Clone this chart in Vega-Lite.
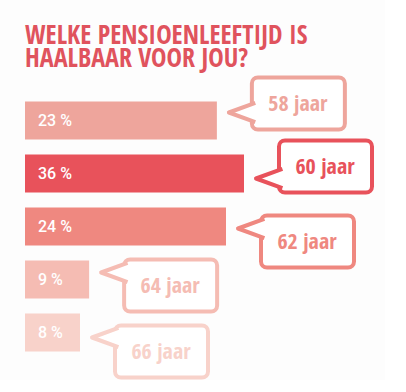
{
  "$schema": "https://vega.github.io/schema/vega-lite/v6.json",
  "width": 360,
  "height": 265,
  "padding": {"left": 25, "top": 22, "right": 0, "bottom": 0},
  "background": "#fdfdfd",
  "title": {
    "text": ["WELKE PENSIOENLEEFTIJD IS", "HAALBAAR VOOR JOU?"],
    "anchor": "start",
    "frame": "group",
    "font": "Open Sans Condensed, Roboto Condensed, Liberation Sans Narrow, DejaVu Sans Condensed, sans-serif",
    "fontSize": 26,
    "fontWeight": "bold",
    "color": "#e0535d",
    "lineHeight": 23,
    "offset": 4
  },
  "config": {"view": {"stroke": null}},
  "data": {
    "values": [
      {"leeftijd": "58 jaar", "pct": 23, "pctLabel": "23 %"},
      {"leeftijd": "60 jaar", "pct": 36, "pctLabel": "36 %"},
      {"leeftijd": "62 jaar", "pct": 24, "pctLabel": "24 %"},
      {"leeftijd": "64 jaar", "pct": 9, "pctLabel": "9 %"},
      {"leeftijd": "66 jaar", "pct": 8, "pctLabel": "8 %"}
    ]
  },
  "encoding": {
    "y": {
      "field": "leeftijd",
      "type": "nominal",
      "sort": null,
      "axis": null,
      "scale": {"paddingInner": 0.283, "paddingOuter": 0.1415}
    }
  },
  "layer": [
    {
      "mark": {"type": "bar"},
      "encoding": {
        "x": {
          "field": "pct",
          "type": "quantitative",
          "axis": null,
          "scale": {"domain": [0, 8, 24, 36], "range": [0, 55, 201, 225]}
        },
        "color": {
          "field": "leeftijd",
          "type": "nominal",
          "legend": null,
          "scale": {
            "domain": ["58 jaar", "60 jaar", "62 jaar", "64 jaar", "66 jaar"],
            "range": ["#eea59c", "#e8525b", "#ef8880", "#f5bcb3", "#f8d2ca"]
          }
        }
      }
    },
    {
      "mark": {"type": "text", "align": "left", "baseline": "middle", "dx": 13, "color": "white", "font": "Roboto", "fontSize": 16, "fontWeight": 500},
      "encoding": {
        "x": {"datum": 0, "type": "quantitative"},
        "text": {"field": "pctLabel"}
      }
    },
    {
      "mark": {
        "type": "bar",
        "fill": "white",
        "strokeWidth": 4,
        "cornerRadius": 6,
        "height": 52,
        "xOffset": 35,
        "x2Offset": 128,
        "yOffset": {"expr": "datum.leeftijd === '58 jaar' ? -17 : datum.leeftijd === '60 jaar' ? -7 : datum.leeftijd === '62 jaar' ? 15 : datum.leeftijd === '64 jaar' ? 6 : 19"}
      },
      "encoding": {
        "x": {"field": "pct", "type": "quantitative"},
        "x2": {"field": "pct"},
        "stroke": {
          "field": "leeftijd",
          "type": "nominal",
          "legend": null,
          "scale": {
            "domain": ["58 jaar", "60 jaar", "62 jaar", "64 jaar", "66 jaar"],
            "range": ["#eea59c", "#e8525b", "#ef8880", "#f5bcb3", "#f8d2ca"]
          }
        }
      }
    },
    {
      "mark": {
        "type": "point",
        "shape": "M1.2,-0.8L-1,0L1.2,0.8",
        "size": 576,
        "filled": true,
        "fill": "white",
        "opacity": 1,
        "strokeWidth": 4,
        "strokeJoin": "round",
        "xOffset": 24,
        "yOffset": {"expr": "datum.leeftijd === '58 jaar' ? -8 : datum.leeftijd === '60 jaar' ? 5 : datum.leeftijd === '62 jaar' ? 2 : datum.leeftijd === '64 jaar' ? -7 : 5"}
      },
      "encoding": {
        "x": {"field": "pct", "type": "quantitative"},
        "stroke": {"field": "leeftijd", "type": "nominal", "legend": null}
      }
    },
    {
      "mark": {
        "type": "text",
        "align": "center",
        "baseline": "middle",
        "font": "Open Sans Condensed, Roboto Condensed, Liberation Sans Narrow, Roboto, sans-serif",
        "fontSize": 22,
        "fontWeight": "bold",
        "xOffset": 81,
        "yOffset": {"expr": "datum.leeftijd === '58 jaar' ? -17 : datum.leeftijd === '60 jaar' ? -7 : datum.leeftijd === '62 jaar' ? 15 : datum.leeftijd === '64 jaar' ? 6 : 19"}
      },
      "encoding": {
        "x": {"field": "pct", "type": "quantitative"},
        "text": {"field": "leeftijd"},
        "color": {"field": "leeftijd", "type": "nominal", "legend": null}
      }
    }
  ]
}
